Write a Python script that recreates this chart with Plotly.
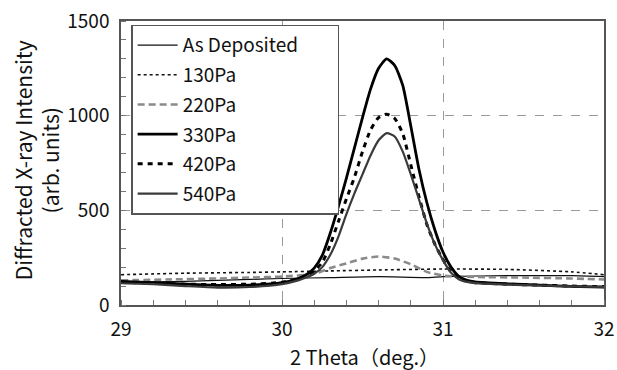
import plotly.graph_objects as go

# ---- data ----
x_peak = [29.0, 29.2, 29.4, 29.6, 29.8, 30.0, 30.1, 30.15, 30.2, 30.25, 30.3, 30.35, 30.4,
          30.45, 30.5, 30.55, 30.6, 30.65, 30.7, 30.75, 30.8, 30.85, 30.9, 30.95, 31.0,
          31.05, 31.1, 31.15, 31.2, 31.4, 31.6, 31.8, 32.0]
y_330 = [125, 118, 110, 104, 105, 118, 140, 160, 195, 262, 380, 520, 670,
         830, 990, 1140, 1250, 1300, 1265, 1160, 945, 720, 540, 395, 280,
         200, 150, 130, 122, 112, 105, 98, 95]
y_420 = [120, 115, 110, 108, 110, 120, 140, 155, 180, 225, 320, 440, 560,
         675, 810, 925, 990, 1008, 985, 905, 740, 575, 425, 320, 240,
         175, 140, 125, 118, 110, 105, 100, 97]
y_540 = [115, 110, 100, 92, 95, 110, 130, 145, 165, 200, 265, 360, 480,
         590, 690, 790, 870, 908, 890, 810, 690, 560, 430, 320, 237,
         170, 135, 122, 116, 108, 103, 98, 95]

x_dep = [29.0, 29.4, 29.8, 30.0, 30.3, 30.6, 30.9, 31.0, 31.4, 31.8, 32.0]
y_dep = [120, 125, 135, 140, 145, 150, 145, 150, 155, 155, 150]

x_130 = [29.0, 29.4, 29.8, 30.0, 30.3, 30.6, 31.0, 31.4, 31.8, 32.0]
y_130 = [160, 168, 172, 175, 180, 185, 190, 188, 175, 160]

x_220 = [29.0, 29.3, 29.6, 29.8, 30.0, 30.2, 30.3, 30.4, 30.5, 30.6, 30.7, 30.8,
         30.9, 31.0, 31.2, 31.5, 31.8, 32.0]
y_220 = [130, 135, 140, 145, 150, 165, 195, 220, 245, 256, 245, 215,
         175, 155, 148, 145, 140, 135]

series_names = ["As Deposited", "130Pa", "220Pa", "330Pa", "420Pa", "540Pa"]
x_ticks = [29, 30, 31, 32]
y_ticks = [0, 500, 1000, 1500]

FONT = "Noto Sans CJK JP"

fig = go.Figure()
specs = [
    (x_dep, y_dep, dict(color="#111111", width=1.2, dash="solid")),
    (x_130, y_130, dict(color="#111111", width=1.6, dash="dot")),
    (x_220, y_220, dict(color="#8a8a8a", width=2.6, dash="7px,4px")),
    (x_peak, y_330, dict(color="#000000", width=2.8, dash="solid")),
    (x_peak, y_420, dict(color="#000000", width=3.0, dash="5px,5px")),
    (x_peak, y_540, dict(color="#3a3a3a", width=2.2, dash="solid")),
]
for i, (name, (xs, ys, ln)) in enumerate(zip(series_names, specs)):
    label = name + ("\u00a0" * 8 if i == 0 else "")
    fig.add_trace(go.Scatter(x=xs, y=ys, mode="lines", name=label,
                             line=dict(shape="spline", smoothing=0.6, **ln),
                             legendgroup=name))

fig.update_layout(
    width=617, height=370,
    margin=dict(l=121, r=13, t=21, b=65, autoexpand=False),
    paper_bgcolor="white", plot_bgcolor="white",
    font=dict(family=FONT, size=19, color="#111111"),
    showlegend=True,
    legend=dict(x=0.021, y=0.987, xanchor="left", yanchor="top",
                bordercolor="#555555", borderwidth=1.5, bgcolor="white",
                font=dict(size=19, family=FONT), traceorder="grouped", tracegroupgap=2,
                itemwidth=40),
)
fig.update_xaxes(
    range=[29, 32], tickvals=x_ticks, ticktext=[str(v) for v in x_ticks],
    showline=True, mirror=True, linecolor="#555555", linewidth=1.5,
    ticks="", ticklabelstandoff=6, ticklabeloverflow="allow", automargin=False,
    showgrid=True, gridcolor="#9a9a9a", griddash="dash", gridwidth=1,
    minor=dict(ticks="inside", dtick=0.2, ticklen=5, tickcolor="#777777", showgrid=False),
    zeroline=False,
    tickfont=dict(size=19, family=FONT),
)
fig.update_yaxes(
    range=[0, 1500], tickvals=y_ticks, ticktext=[str(v) for v in y_ticks],
    showline=True, mirror=True, linecolor="#555555", linewidth=1.5,
    ticks="", ticklabelstandoff=6, ticklabeloverflow="allow", automargin=False,
    showgrid=True, gridcolor="#9a9a9a", griddash="dash", gridwidth=1,
    minor=dict(ticks="inside", dtick=100, ticklen=5, tickcolor="#777777", showgrid=False),
    zeroline=False,
    tickfont=dict(size=19, family=FONT),
)
fig.add_annotation(
    text="Diffracted X-ray Intensity<br>(arb. units)", textangle=-90,
    xref="paper", yref="paper", x=-0.176, y=0.51, xanchor="center", yanchor="middle",
    showarrow=False, font=dict(size=21, family=FONT),
)
fig.add_annotation(
    text="2 Theta（deg.）",
    xref="paper", yref="paper", x=0.505, y=-0.183, xanchor="center", yanchor="middle",
    showarrow=False, font=dict(size=20, family=FONT),
)
fig.write_html("out.html", config={"displayModeBar": False},
               post_script="document.body.style.margin='0';document.body.style.overflow='hidden';")
